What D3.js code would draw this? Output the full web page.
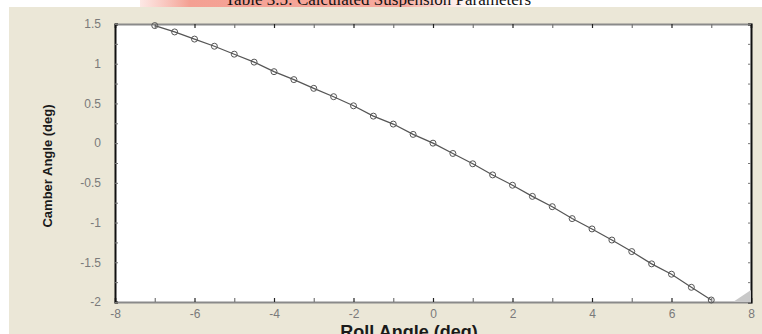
<!DOCTYPE html>
<html>
<head>
<meta charset="utf-8">
<script src="https://cdn.jsdelivr.net/npm/d3@7"></script>
<style>
  body { margin: 0; background: #fff; }
  svg { display: block; }
</style>
</head>
<body>
<div id="chart"></div>
<script>
// roll angle (deg) and camber angle (deg)
var rollAngle = [-7, -6.5, -6, -5.5, -5, -4.5, -4, -3.5, -3, -2.5, -2, -1.5, -1, -0.5,
                 0, 0.5, 1, 1.5, 2, 2.5, 3, 3.5, 4, 4.5, 5, 5.5, 6, 6.5, 7];
var camberAngle = [1.48, 1.40, 1.31, 1.22, 1.12, 1.02, 0.90, 0.80, 0.69, 0.585, 0.47, 0.34, 0.24, 0.11,
                   0.0, -0.13, -0.26, -0.40, -0.53, -0.67, -0.80, -0.95, -1.08, -1.22, -1.365, -1.52, -1.65, -1.815, -1.975];
var xTicks = [-8, -6, -4, -2, 0, 2, 4, 6, 8];
var yTicks = [1.5, 1, 0.5, 0, -0.5, -1, -1.5, -2];

var W = 762, H = 334;
var margin = {top: 24, right: 11, bottom: 32, left: 115},
    width = W - margin.left - margin.right,
    height = H - margin.top - margin.bottom;

var svg = d3.select("#chart").append("svg")
    .attr("width", W)
    .attr("height", H);

// pink highlight behind the cut-off caption
var grad = svg.append("defs").append("linearGradient").attr("id", "pink");
grad.append("stop").attr("offset", "0").attr("stop-color", "#f7b3a8").attr("stop-opacity", 0.3);
grad.append("stop").attr("offset", "0.15").attr("stop-color", "#f4a093");
grad.append("stop").attr("offset", "0.8").attr("stop-color", "#f6aa9e");
grad.append("stop").attr("offset", "1").attr("stop-color", "#fbd6cf").attr("stop-opacity", 0.2);
svg.append("rect").attr("x", 140).attr("y", 0).attr("width", 330).attr("height", 8)
    .attr("fill", "url(#pink)");

svg.append("text")
    .attr("x", 378).attr("y", 5)
    .attr("text-anchor", "middle")
    .style("font-family", "'Liberation Serif', 'Times New Roman', serif")
    .style("font-size", "17px")
    .style("fill", "#111")
    .text("Table 3.5: Calculated Suspension Parameters");

// beige figure window
svg.append("rect").attr("x", 9).attr("y", 7).attr("width", W - 9).attr("height", H - 7)
    .attr("fill", "#ebe7d7");

var g = svg.append("g")
    .attr("transform", "translate(" + margin.left + "," + margin.top + ")");

g.append("rect").attr("width", width).attr("height", height).attr("fill", "#fff");

var x = d3.scaleLinear().domain([-8, 8]).range([0, width]);
var y = d3.scaleLinear().domain([-2, 1.5]).range([height, 0]);

// bottom axis with inward ticks
var xb = g.append("g")
    .attr("transform", "translate(0," + height + ")")
    .call(d3.axisBottom(x).tickValues(d3.range(-8, 9, 1)).tickSize(-4).tickPadding(7)
        .tickFormat(function(d) { return xTicks.indexOf(d) >= 0 ? d : ""; }));
var xt = g.append("g")
    .call(d3.axisTop(x).tickValues(d3.range(-8, 9, 1)).tickSize(-4).tickFormat(""));
[xb, xt].forEach(function(a) {
  a.select(".domain").attr("stroke", "#8a8a8a").attr("stroke-width", 2);
  a.selectAll(".tick line").attr("stroke", function(d) { return d % 2 === 0 ? "#222" : "#777"; })
    .attr("stroke-width", 1.2);
});

var yl = g.append("g")
    .call(d3.axisLeft(y).tickValues(d3.range(-2, 1.51, 0.25)).tickSize(-3).tickPadding(14)
        .tickFormat(function(d) { return yTicks.indexOf(d) >= 0 ? d : ""; }));
var yr = g.append("g")
    .attr("transform", "translate(" + width + ",0)")
    .call(d3.axisRight(y).tickValues(d3.range(-2, 1.51, 0.25)).tickSize(-3).tickFormat(""));
[yl, yr].forEach(function(a) {
  a.select(".domain").attr("stroke", "#111").attr("stroke-width", 2);
  a.selectAll(".tick line").attr("stroke", "#777");
});

g.selectAll(".tick text")
    .style("font-family", "'Liberation Sans', Arial, sans-serif")
    .style("font-size", "12px")
    .style("fill", "#7a7a7a");

// faint grey shape in the bottom-right corner
g.append("path")
    .attr("d", "M" + (width - 18) + "," + height + "L" + width + "," + (height - 12) + "L" + width + "," + height + "Z")
    .attr("fill", "#c9c9c9");

// the curve
g.append("path")
    .datum(rollAngle)
    .attr("fill", "none")
    .attr("stroke", "#555")
    .attr("stroke-width", 1.2)
    .attr("d", d3.line()
        .x(function(d) { return x(d); })
        .y(function(d, i) { return y(camberAngle[i]); }));

g.selectAll("circle.pt")
    .data(rollAngle)
    .enter()
    .append("circle")
    .attr("class", "pt")
    .attr("cx", function(d) { return x(d); })
    .attr("cy", function(d, i) { return y(camberAngle[i]); })
    .attr("r", 3)
    .attr("fill", "none")
    .attr("stroke", "#555")
    .attr("stroke-width", 1);

// axis titles
svg.append("text")
    .attr("x", 409).attr("y", 338)
    .attr("text-anchor", "middle")
    .style("font-family", "'Liberation Sans', Arial, sans-serif")
    .style("font-weight", "bold")
    .style("font-size", "18px")
    .style("fill", "#1a1a1a")
    .text("Roll Angle (deg)");

svg.append("text")
    .attr("transform", "translate(52,166) rotate(-90)")
    .attr("text-anchor", "middle")
    .style("font-family", "'Liberation Sans', Arial, sans-serif")
    .style("font-weight", "bold")
    .style("font-size", "13px")
    .style("fill", "#1a1a1a")
    .text("Camber Angle (deg)");
</script>
</body>
</html>
